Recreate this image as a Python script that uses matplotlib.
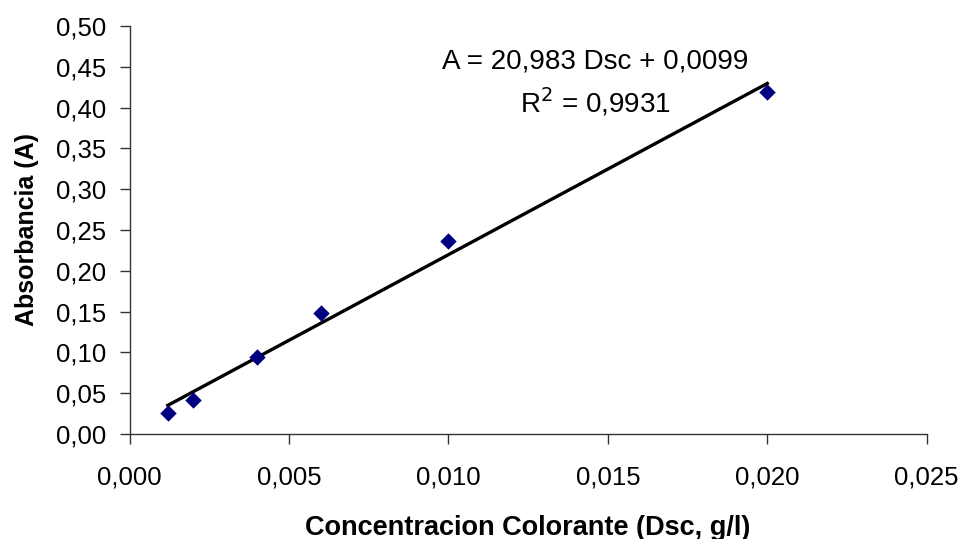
import matplotlib.pyplot as plt
from matplotlib.ticker import FuncFormatter

# calibration data: dye concentration (g/l) vs absorbance
conc = [0.0012, 0.002, 0.004, 0.006, 0.010, 0.020]
absorb = [0.026, 0.042, 0.094, 0.148, 0.237, 0.419]

# linear fit reported by the spreadsheet
slope = 20.983
intercept = 0.0099
r2 = 0.9931

plt.rcParams['font.family'] = ['Liberation Sans', 'DejaVu Sans']

fig = plt.figure(figsize=(9.63, 5.39), dpi=100)
ax = fig.add_axes([0.1345, 0.1948, 0.9623 - 0.1345, 0.9518 - 0.1948])

ax.scatter(conc, absorb, marker='D', s=70, color='#000080', zorder=3, linewidths=0)

xs = [min(conc), max(conc)]
ax.plot(xs, [slope * x + intercept for x in xs], color='black', lw=2.4, zorder=2)

ax.set_xlim(0, 0.025)
ax.set_ylim(0, 0.5)
ax.set_xticks([0, 0.005, 0.010, 0.015, 0.020, 0.025])
ax.set_yticks([i * 0.05 for i in range(11)])
ax.xaxis.set_major_formatter(FuncFormatter(lambda v, p: f'{v:.3f}'.replace('.', ',')))
ax.yaxis.set_major_formatter(FuncFormatter(lambda v, p: f'{v:.2f}'.replace('.', ',')))

for s in ['top', 'right']:
    ax.spines[s].set_visible(False)
for s in ['left', 'bottom']:
    ax.spines[s].set_color('#333333')
    ax.spines[s].set_linewidth(1.0)
ax.tick_params(direction='out', length=7, width=1, labelsize=18.5, color='#333333')
ax.tick_params(axis='x', pad=16)
ax.tick_params(axis='y', pad=10)

ax.set_xlabel('Concentracion Colorante (Dsc, g/l)', fontsize=19.5, fontweight='bold', labelpad=18)
ax.set_ylabel('Absorbancia (A)', fontsize=18, fontweight='bold', labelpad=12)

eq = f'A = {slope:.3f} Dsc + {intercept:.4f}'.replace('.', ',')
ax.text(0.0146, 0.4565, eq, fontsize=20, ha='center', va='center')
ax.text(0.0146, 0.407, f'R$^2$ = {r2:.4f}'.replace('.', ','), fontsize=20, ha='center', va='center')

fig.savefig('out.png', dpi=100)
